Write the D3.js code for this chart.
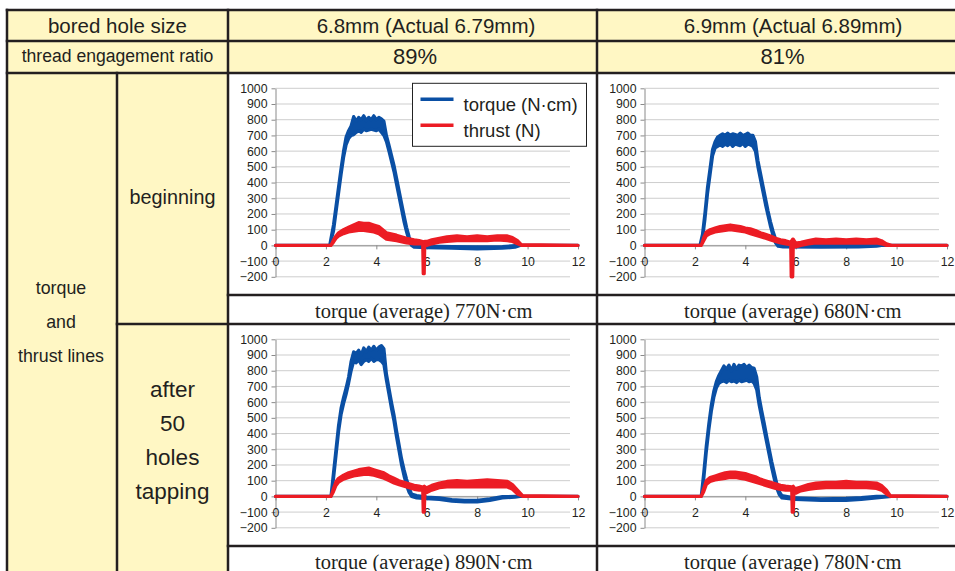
<!DOCTYPE html>
<html>
<head>
<meta charset="utf-8">
<script src="https://cdn.jsdelivr.net/npm/d3@7"></script>
<style>
  body { margin: 0; background: #fff; }
  text { fill: #231f20; }
</style>
</head>
<body>
<svg id="chart" width="955" height="571"></svg>
<script>
// ---- table text ----
var rowHeads = ["bored hole size", "thread engagement ratio"];
var colHeads = ["6.8mm (Actual 6.79mm)", "6.9mm (Actual 6.89mm)"];
var ratios = ["89%", "81%"];
var sideLabel = ["torque", "and", "thrust lines"];
var stageLabels = [["beginning"], ["after", "50", "holes", "tapping"]];
var avgTorque = [[770, 680], [890, 780]];   // [stage][column], N·cm

// ---- axes ----
var xTicks = [0, 2, 4, 6, 8, 10, 12];
var yTicks = [-200, -100, 0, 100, 200, 300, 400, 500, 600, 700, 800, 900, 1000];
var seriesNames = ["torque (N·cm)", "thrust (N)"];

// ---- traces: [time s, band low, band high] ----
var torque89Begin = [[0,0,0],[2.15,0,0],[2.3,90,130],[2.4,210,250],[2.5,330,370],[2.6,450,490],
  [2.7,560,600],[2.8,640,690],[2.9,680,730],[3.0,700,760],[3.1,705,820],[3.2,720,790],[3.3,730,815],
  [3.4,720,800],[3.5,740,825],[3.6,730,795],[3.7,735,815],[3.8,740,800],[3.9,735,825],[4.0,730,800],
  [4.1,740,815],[4.2,720,805],[4.3,700,790],[4.4,660,700],[4.5,600,640],[4.6,535,575],[4.7,470,510],
  [4.8,390,430],[4.9,310,350],[5.0,230,270],[5.1,150,190],[5.2,85,115],[5.3,30,55],[5.4,0,12],
  [5.5,-12,0],[6,-15,-5],[7,-18,-8],[8,-22,-10],[9,-18,-8],[9.5,-12,-2],[9.7,0,0],[12,0,0]];
var thrust89Begin = [[0,0,0],[2.2,0,0],[2.3,20,35],[2.4,45,60],[2.5,60,80],[2.7,75,100],[2.9,85,115],
  [3.1,90,130],[3.3,95,145],[3.5,95,140],[3.7,90,140],[3.9,85,130],[4.1,75,120],[4.4,40,80],
  [4.8,30,65],[5.2,15,45],[5.5,10,35],[5.7,10,30],[5.84,10,25],[5.86,-180,20],[5.9,-180,20],
  [5.92,0,25],[6.0,0,25],[6.2,10,35],[6.5,20,45],[6.8,25,55],[7.2,30,60],[7.6,30,55],[8.0,30,60],
  [8.4,30,55],[8.8,35,60],[9.2,30,60],[9.4,25,50],[9.6,10,30],[9.75,0,5],[12,0,0]];

var torque81Begin = [[0,0,0],[2.2,0,0],[2.3,40,70],[2.4,170,210],[2.5,330,370],[2.6,450,490],
  [2.7,570,610],[2.8,620,660],[2.9,630,690],[3.0,640,700],[3.1,630,710],[3.2,645,700],[3.3,635,715],
  [3.4,650,700],[3.5,630,710],[3.6,645,705],[3.7,640,700],[3.8,635,715],[3.9,650,700],[4.0,630,705],
  [4.1,645,715],[4.2,640,700],[4.3,630,700],[4.4,600,660],[4.5,500,540],[4.6,420,460],[4.7,340,380],
  [4.8,260,300],[4.9,190,220],[5.0,120,150],[5.1,60,90],[5.2,15,40],[5.3,-5,10],[5.5,-10,0],
  [7,-12,0],[8.5,-10,0],[9.2,-5,0],[9.4,0,0],[12,0,0]];
var thrust81Begin = [[0,0,0],[2.25,0,0],[2.35,30,50],[2.45,60,85],[2.6,75,100],[2.8,85,110],
  [3.0,90,120],[3.2,95,125],[3.4,100,130],[3.6,95,125],[3.8,90,120],[4.0,85,110],[4.2,75,105],
  [4.4,65,95],[4.6,55,80],[4.8,45,70],[5.0,35,60],[5.2,25,45],[5.4,15,35],[5.6,10,30],[5.8,5,20],
  [5.82,-200,25],[5.88,-200,40],[5.9,-10,40],[6.0,-10,15],[6.2,0,20],[6.5,10,30],[6.8,15,40],
  [7.2,15,35],[7.6,15,40],[8.0,15,35],[8.4,15,40],[8.8,15,35],[9.2,15,40],[9.4,10,30],[9.6,0,10],
  [9.8,0,0],[12,0,0]];

var torque89After = [[0,0,0],[2.2,0,0],[2.3,110,150],[2.4,260,300],[2.5,410,450],[2.6,520,560],
  [2.7,590,630],[2.8,650,690],[2.9,720,760],[3.0,800,860],[3.1,860,920],[3.2,850,910],[3.3,870,930],
  [3.4,840,900],[3.5,860,945],[3.6,870,920],[3.7,860,950],[3.8,880,930],[3.9,860,955],[4.0,870,930],
  [4.1,870,950],[4.2,860,960],[4.3,840,940],[4.4,740,780],[4.5,650,690],[4.6,560,600],[4.7,480,520],
  [4.8,380,420],[4.9,290,330],[5.0,200,240],[5.1,130,170],[5.2,70,110],[5.3,25,55],[5.4,0,15],
  [5.6,-10,5],[6,-15,-5],[6.5,-20,-10],[7,-30,-20],[7.5,-35,-25],[8,-35,-25],[8.5,-25,-15],
  [9,-10,-2],[9.5,-5,0],[9.7,0,0],[12,0,0]];
var thrust89After = [[0,0,0],[2.2,0,0],[2.3,30,50],[2.4,70,95],[2.5,90,115],[2.7,110,135],
  [2.9,120,150],[3.1,130,160],[3.3,135,170],[3.5,140,175],[3.7,140,180],[3.9,135,170],[4.1,125,160],
  [4.3,115,150],[4.5,100,130],[4.7,85,115],[4.9,75,100],[5.1,65,90],[5.3,55,80],[5.5,45,70],
  [5.7,40,65],[5.84,40,60],[5.86,-100,60],[5.9,-100,65],[5.93,30,60],[6.0,25,55],[6.2,40,70],
  [6.5,55,85],[6.8,60,95],[7.2,60,100],[7.6,60,95],[8.0,60,100],[8.4,60,105],[8.8,60,100],
  [9.2,60,95],[9.4,45,75],[9.6,15,40],[9.8,0,5],[12,0,0]];

var torque81After = [[0,0,0],[2.25,0,0],[2.35,110,150],[2.45,280,320],[2.55,420,460],[2.65,540,580],
  [2.75,630,670],[2.85,690,730],[2.95,720,770],[3.05,730,800],[3.15,735,830],[3.25,725,810],
  [3.35,740,835],[3.45,730,800],[3.55,735,840],[3.65,725,810],[3.75,740,835],[3.85,730,830],
  [3.95,735,840],[4.05,740,820],[4.15,730,835],[4.25,735,820],[4.35,720,815],[4.45,680,760],
  [4.55,580,630],[4.65,500,545],[4.75,420,465],[4.85,340,380],[4.95,260,300],[5.05,180,220],
  [5.15,110,150],[5.25,50,80],[5.35,10,30],[5.45,-10,5],[6,-20,-10],[7,-25,-15],[8,-25,-12],
  [8.6,-20,-8],[9.2,-10,0],[9.6,-3,0],[9.8,0,0],[12,0,0]];
var thrust81After = [[0,0,0],[2.25,0,0],[2.35,30,50],[2.45,75,100],[2.6,95,120],[2.8,105,130],
  [3.0,110,140],[3.2,115,150],[3.4,120,155],[3.6,120,155],[3.8,115,150],[4.0,110,145],[4.2,100,135],
  [4.4,90,125],[4.6,80,110],[4.8,70,100],[5.0,60,90],[5.2,50,80],[5.4,45,70],[5.6,40,65],
  [5.84,40,60],[5.86,-100,60],[5.9,-100,65],[5.93,25,55],[6.0,20,50],[6.2,35,60],[6.5,45,75],
  [6.8,50,85],[7.2,55,90],[7.6,55,90],[8.0,55,95],[8.4,55,90],[8.8,55,90],[9.2,50,85],[9.4,40,70],
  [9.6,15,40],[9.75,0,5],[12,0,0]];

var torqueTraces = [[torque89Begin, torque81Begin], [torque89After, torque81After]];
var thrustTraces = [[thrust89Begin, thrust81Begin], [thrust89After, thrust81After]];

// ---- layout ----
var ink = "#231f20";
var yellow = "#fff7c4";
var blue = "#0a4fa4";
var red = "#ec1c24";
var sans = "'Liberation Sans', Arial, sans-serif";
var serif = "'Liberation Serif', 'Times New Roman', serif";
var colX = [7, 117, 228, 597, 966];
var rowY = [10, 41, 73, 295, 324, 546, 600];

var svg = d3.select("#chart");

// yellow header cells
svg.append("rect").attr("x", colX[0]).attr("y", rowY[0])
  .attr("width", colX[4] - colX[0]).attr("height", rowY[2] - rowY[0]).attr("fill", yellow);
svg.append("rect").attr("x", colX[0]).attr("y", rowY[2])
  .attr("width", colX[2] - colX[0]).attr("height", rowY[6] - rowY[2]).attr("fill", yellow);

// charts
function drawChart(col, row, withLegend) {
  var left = colX[2 + col] + 47.5;
  var top = rowY[2 + row * 2] + 15.3;
  var x = d3.scaleLinear().domain([0, 12]).range([left, left + 302.5]);
  var y = d3.scaleLinear().domain([-200, 1000]).range([top + 188.5, top]);
  var g = svg.append("g");

  g.selectAll("line.grid")
    .data(yTicks)
   .enter().append("line")
    .attr("x1", x(0)).attr("x2", x(12) - 8)
    .attr("y1", function(d) { return y(d); })
    .attr("y2", function(d) { return y(d); })
    .attr("stroke", "#cdcdcd").attr("stroke-width", 1);

  var yAxis = g.append("g")
    .attr("transform", "translate(" + x(0) + ",0)")
    .call(d3.axisLeft(y).tickValues(yTicks).tickFormat(d3.format("d"))
      .tickSize(4).tickSizeOuter(0).tickPadding(4));
  var xAxis = g.append("g")
    .attr("transform", "translate(0," + y(0) + ")")
    .call(d3.axisBottom(x).tickValues(xTicks).tickFormat(d3.format("d"))
      .tickSize(4).tickSizeOuter(0).tickPadding(7.5));
  [yAxis, xAxis].forEach(function(a) {
    a.select(".domain").attr("stroke", "#8a8a8a");
    a.selectAll(".tick line").attr("stroke", "#8a8a8a");
    a.selectAll(".tick text").attr("font-family", sans).attr("font-size", "12.3px").attr("fill", "#333");
  });

  var area = d3.area()
    .x(function(d) { return x(d[0]); })
    .y0(function(d) { return y(d[1]); })
    .y1(function(d) { return y(d[2]); });

  [[torqueTraces[row][col], blue], [thrustTraces[row][col], red]].forEach(function(s) {
    g.append("path")
      .attr("d", area(s[0]))
      .attr("fill", s[1])
      .attr("stroke", s[1])
      .attr("stroke-width", 3.2)
      .attr("stroke-linejoin", "round");
  });

  if (withLegend) {
    var lg = g.append("g").attr("transform", "translate(" + (left + 137) + "," + (top - 5) + ")");
    lg.append("rect").attr("width", 174).attr("height", 63)
      .attr("fill", "#fff").attr("stroke", "#222").attr("stroke-width", 1);
    lg.selectAll("line")
      .data(seriesNames)
     .enter().append("line")
      .attr("x1", 8).attr("x2", 41)
      .attr("y1", function(d, i) { return 16 + i * 26; })
      .attr("y2", function(d, i) { return 16 + i * 26; })
      .attr("stroke", function(d, i) { return i == 0 ? blue : red; })
      .attr("stroke-width", 3.5);
    lg.selectAll("text")
      .data(seriesNames)
     .enter().append("text")
      .attr("x", 51)
      .attr("y", function(d, i) { return 28 + i * 26; })
      .attr("font-family", sans).attr("font-size", "18.5px")
      .text(function(d) { return d; });
  }

  svg.append("text")
    .attr("x", (x(0) + x(12)) / 2 - 3)
    .attr("y", rowY[3 + row * 2] + 22.5)
    .attr("text-anchor", "middle")
    .attr("font-family", serif).attr("font-size", "20.5px")
    .text("torque (average) " + avgTorque[row][col] + "N·cm");
}

for (var r = 0; r < 2; r++) {
  for (var c = 0; c < 2; c++) {
    drawChart(c, r, r == 0 && c == 0);
  }
}

// table text
function label(txt, x, y, size, font) {
  svg.append("text").attr("x", x).attr("y", y)
    .attr("text-anchor", "middle")
    .attr("font-family", font || sans).attr("font-size", size + "px")
    .text(txt);
}
label(rowHeads[0], (colX[0] + colX[2]) / 2, 32.5, 20.5);
label(rowHeads[1], (colX[0] + colX[2]) / 2, 61.7, 17.6);
label(colHeads[0], 426, 32.5, 20.5);
label(colHeads[1], 793, 32.5, 20.5);
label(ratios[0], 415, 63.5, 22);
label(ratios[1], 782.5, 63.5, 22);
sideLabel.forEach(function(t, i) { label(t, 61, 294.3 + i * 33.7, 17.8); });
stageLabels[0].forEach(function(t, i) { label(t, 172.5, 204, 19.8); });
stageLabels[1].forEach(function(t, i) { label(t, 172.5, 397.3 + i * 34, 22.5); });

// table rules
var hRules = [[rowY[0], colX[0], colX[4]], [rowY[1], colX[0], colX[4]], [rowY[2], colX[0], colX[4]],
  [rowY[3], colX[2], colX[4]], [rowY[4], colX[1], colX[4]], [rowY[5], colX[2], colX[4]]];
var vRules = [[colX[0], rowY[0], rowY[6]], [colX[1], rowY[2], rowY[6]], [colX[2], rowY[0], rowY[6]],
  [colX[3], rowY[0], rowY[6]], [colX[4], rowY[0], rowY[6]]];
svg.selectAll("line.h").data(hRules).enter().append("line")
  .attr("x1", function(d) { return d[1] - 1.25; }).attr("x2", function(d) { return d[2] + 1.25; })
  .attr("y1", function(d) { return d[0]; }).attr("y2", function(d) { return d[0]; })
  .attr("stroke", ink).attr("stroke-width", 2.5);
svg.selectAll("line.v").data(vRules).enter().append("line")
  .attr("x1", function(d) { return d[0]; }).attr("x2", function(d) { return d[0]; })
  .attr("y1", function(d) { return d[1] - 1.25; }).attr("y2", function(d) { return d[2]; })
  .attr("stroke", ink).attr("stroke-width", 2.5);
</script>
</body>
</html>
